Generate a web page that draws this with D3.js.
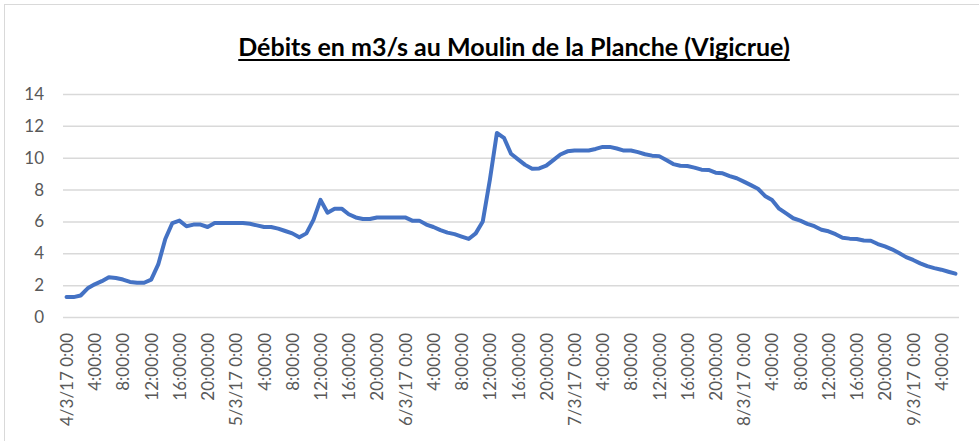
<!DOCTYPE html>
<html>
<head>
<meta charset="utf-8">
<script src="https://cdn.jsdelivr.net/npm/d3@7"></script>
<style>
  html, body { margin: 0; padding: 0; background: #fff; }
  svg { display: block; }
</style>
</head>
<body>
<svg id="chart" width="979" height="441"></svg>
<script>
// ---- Data ----
const title = "Débits en m3/s au Moulin de la Planche (Vigicrue)";
const days = ["4/3/17", "5/3/17", "6/3/17", "7/3/17", "8/3/17", "9/3/17"];
const hoursPerDay = 24;
const labelEveryHours = 4;
const yTicks = [0, 2, 4, 6, 8, 10, 12, 14];
// hourly flows (m3/s) from 4/3/17 0:00 to 9/3/17 6:00
const flows = [
  1.25, 1.25, 1.35, 1.8, 2.05, 2.25, 2.5, 2.45, 2.35, 2.2, 2.15, 2.15,
  2.35, 3.3, 4.9, 5.9, 6.05, 5.7, 5.8, 5.8, 5.65, 5.9, 5.9, 5.9,
  5.9, 5.9, 5.85, 5.75, 5.65, 5.65, 5.55, 5.4, 5.25, 5.0, 5.25, 6.1,
  7.35, 6.55, 6.8, 6.8, 6.45, 6.25, 6.15, 6.15, 6.25, 6.25, 6.25, 6.25,
  6.25, 6.05, 6.05, 5.8, 5.65, 5.45, 5.3, 5.2, 5.05, 4.9, 5.25, 6.0,
  8.6, 11.55, 11.25, 10.25, 9.9, 9.55, 9.3, 9.33, 9.5, 9.85, 10.2, 10.4,
  10.45, 10.45, 10.45, 10.55, 10.68, 10.68, 10.58, 10.45, 10.45, 10.35, 10.22, 10.13,
  10.1, 9.85, 9.6, 9.5, 9.48, 9.38, 9.25, 9.23, 9.06, 9.02, 8.85, 8.71,
  8.5, 8.28, 8.05, 7.6, 7.34, 6.8, 6.5, 6.2, 6.05, 5.85, 5.7, 5.48,
  5.38, 5.2, 4.97, 4.92, 4.9, 4.8, 4.79, 4.58, 4.43, 4.25, 4.02, 3.76,
  3.58, 3.37, 3.19, 3.07, 2.97, 2.84, 2.72
];

// categories (one per hour), labels in Excel style
const categoryLabels = flows.map((_, i) => {
  const d = Math.floor(i / hoursPerDay), h = i % hoursPerDay;
  return h === 0 ? `${days[d]} 0:00` : `${h}:00:00`;
});
const idx = d3.range(flows.length);
const labelledIdx = idx.filter(i => i % labelEveryHours === 0);

// ---- Layout ----
const svg = d3.select("#chart");
const plot = { left: 63, right: 959, top: 94, bottom: 317 };
const font = "Lato, 'Open Sans', sans-serif";

// outer frame (partially visible)
svg.append("rect")
  .attr("x", 4.5).attr("y", 4.5).attr("width", 1100).attr("height", 1100)
  .attr("fill", "none").attr("stroke", "#d9d9d9").attr("stroke-width", 1);

const x = d3.scalePoint().domain(idx).range([plot.left, plot.right]).padding(0.5);
const y = d3.scaleLinear().domain([0, 14]).range([plot.bottom, plot.top]);

// gridlines + y axis
const yAxis = d3.axisLeft(y).tickValues(yTicks).tickSize(-(plot.right - plot.left)).tickPadding(19).tickFormat(d3.format("d"));
const gy = svg.append("g").attr("transform", `translate(${plot.left},0)`).call(yAxis);
gy.select(".domain").remove();
gy.selectAll(".tick line").attr("stroke", "#d9d9d9").attr("stroke-width", 1.5);
gy.selectAll(".tick text").attr("fill", "#595959").style("font-family", font).style("font-size", "17px");

// x axis labels (every 4 hours, rotated)
const xAxis = d3.axisBottom(x).tickValues(labelledIdx).tickSize(0)
  .tickFormat(i => categoryLabels[i]);
const gx = svg.append("g").attr("transform", `translate(0,${plot.bottom})`).call(xAxis);
gx.select(".domain").remove();
gx.selectAll(".tick text")
  .attr("fill", "#595959").style("font-family", font).style("font-size", "17px")
  .attr("transform", "rotate(-90)")
  .attr("text-anchor", "end")
  .attr("x", -16).attr("y", 0).attr("dy", "0.35em");

// line
const line = d3.line().x((d, i) => x(i)).y(d => y(d));
svg.append("path").datum(flows)
  .attr("d", line)
  .attr("fill", "none").attr("stroke", "#4472c4").attr("stroke-width", 4)
  .attr("stroke-linejoin", "round").attr("stroke-linecap", "round");

// title
const t = svg.append("text").text(title)
  .attr("x", 514).attr("y", 56).attr("text-anchor", "middle")
  .style("font-family", font).style("font-weight", "bold").style("font-size", "20px")
  .attr("fill", "#000");
const w = t.node().getComputedTextLength();
t.style("font-size", (20 * 552 / w) + "px");
const bb = t.node().getBBox();
svg.append("line")
  .attr("x1", bb.x).attr("x2", bb.x + bb.width)
  .attr("y1", 60).attr("y2", 60)
  .attr("stroke", "#000").attr("stroke-width", 1.8);
</script>
</body>
</html>
